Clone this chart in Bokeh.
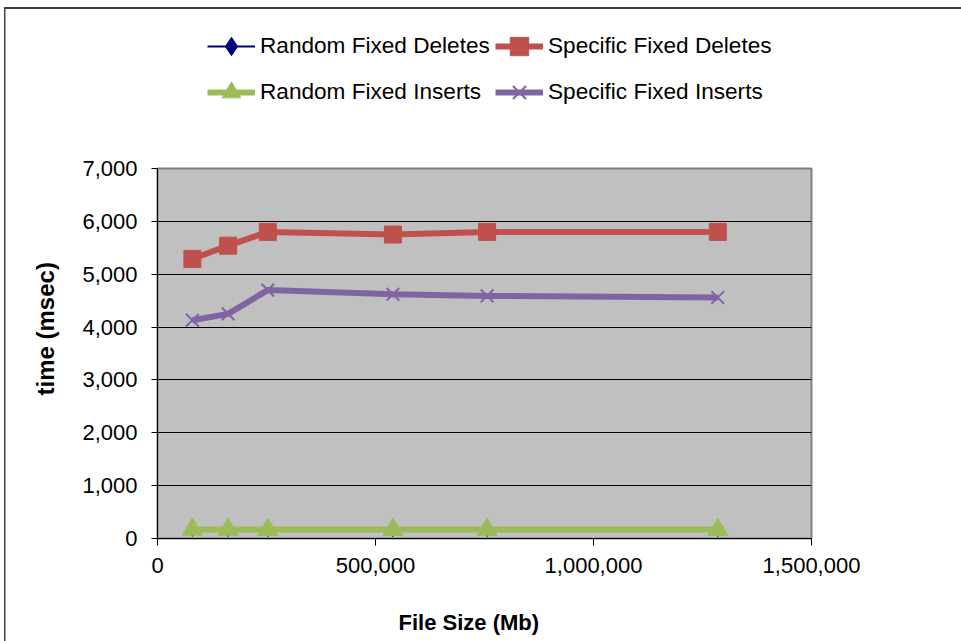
from bokeh.plotting import figure
from bokeh.layouts import column
from bokeh.models import (ColumnDataSource, Legend, LegendItem, Range1d, SingleIntervalTicker,
                          NumeralTickFormatter, Title)
from bokeh.embed import file_html
from bokeh.resources import INLINE

# ---- data ----
file_size = [80000, 162000, 253000, 540000, 756000, 1285000]
random_fixed_deletes = [165, 162, 160, 160, 162, 160]
specific_fixed_deletes = [5290, 5540, 5800, 5750, 5800, 5800]
random_fixed_inserts = [172, 170, 168, 168, 170, 168]
specific_fixed_inserts = [4130, 4250, 4700, 4620, 4590, 4560]

series_names = ["Random Fixed Deletes", "Specific Fixed Deletes",
                "Random Fixed Inserts", "Specific Fixed Inserts"]
x_label = "File Size (Mb)"
y_label = "time (msec)"

FONT = "Liberation Sans"
c_blue, c_red, c_green, c_purple = "#000080", "#C0504D", "#9BBB59", "#8064A2"

src = ColumnDataSource(dict(x=file_size, rfd=random_fixed_deletes, sfd=specific_fixed_deletes,
                            rfi=random_fixed_inserts, sfi=specific_fixed_inserts))


def draw_series(fig):
    l1 = fig.line("x", "rfd", source=src, line_color=c_blue, line_width=2)
    m1 = fig.scatter("x", "rfd", source=src, marker="diamond", size=13, fill_color=c_blue, line_color=c_blue)
    l2 = fig.line("x", "sfd", source=src, line_color=c_red, line_width=6)
    m2 = fig.scatter("x", "sfd", source=src, marker="square", size=17, fill_color=c_red, line_color=c_red)
    l3 = fig.line("x", "rfi", source=src, line_color=c_green, line_width=6)
    m3 = fig.scatter("x", "rfi", source=src, marker="triangle", size=20, fill_color=c_green, line_color=c_green)
    l4 = fig.line("x", "sfi", source=src, line_color=c_purple, line_width=6)
    m4 = fig.scatter("x", "sfi", source=src, marker="x", size=18, line_color=c_purple, line_width=2)
    return [[l1, m1], [l2, m2], [l3, m3], [l4, m4]]


TOP_H = 148

# ---- main chart ----
p = figure(width=961, height=641 - TOP_H, output_backend="svg", toolbar_location=None,
           x_range=Range1d(0, 1500000), y_range=Range1d(0, 7000))
p.min_border_left = 157
p.min_border_right = 150
p.min_border_top = 168 - TOP_H
p.min_border_bottom = 103
p.background_fill_color = "#C0C0C0"
p.border_fill_alpha = 0
p.outline_line_color = "#808080"
p.outline_line_width = 2

p.xgrid.grid_line_color = None
p.ygrid.grid_line_color = "black"
p.ygrid.grid_line_width = 1

for ax in (p.xaxis[0], p.yaxis[0]):
    ax.axis_line_color = "black"
    ax.axis_line_width = 1
    ax.major_tick_line_color = "black"
    ax.minor_tick_line_color = None
    ax.major_tick_in = 0
    ax.major_label_text_font = FONT
    ax.major_label_text_font_size = "22px"
    ax.major_label_text_color = "black"
    ax.formatter = NumeralTickFormatter(format="0,0")

p.xaxis[0].ticker = SingleIntervalTicker(interval=500000)
p.yaxis[0].ticker = SingleIntervalTicker(interval=1000)
p.xaxis[0].major_tick_out = 7
p.yaxis[0].major_tick_out = 6
p.xaxis[0].major_label_standoff = 12
p.yaxis[0].major_label_standoff = 14

draw_series(p)

# blank spacer between the x axis and its title, then the titles themselves
p.add_layout(Title(text=" ", text_font_size="1px", standoff=27), "below")
p.add_layout(Title(text=x_label, align="left", offset=241, standoff=4, text_color="black",
                   text_font=FONT, text_font_size="22px", text_font_style="bold"), "below")
p.add_layout(Title(text=y_label, align="left", offset=143, standoff=41, text_color="black",
                   text_font=FONT, text_font_size="24px", text_font_style="bold"), "left")

# ---- legend strip above the chart (same series styles; data lie outside its view) ----
lf = figure(width=961, height=TOP_H, output_backend="svg", toolbar_location=None,
            x_range=Range1d(0, 1), y_range=Range1d(0, 1), x_axis_type=None, y_axis_type=None,
            min_border=0)
lf.outline_line_color = None
lf.background_fill_alpha = 0
lf.border_fill_alpha = 0
lf.xgrid.visible = False
lf.ygrid.visible = False
pairs = draw_series(lf)

legend = Legend(items=[LegendItem(label=n, renderers=r) for n, r in zip(series_names, pairs)],
                orientation="horizontal", ncols=2, location=(207 - 157, TOP_H - 115),
                label_text_font=FONT, label_text_font_size="22.6px", label_text_color="black",
                glyph_width=48, glyph_height=46, label_height=46, label_width=235,
                label_standoff=5, spacing=0, padding=0, margin=0,
                border_line_color=None, background_fill_alpha=0)
lf.add_layout(legend, "center")

layout = column(lf, p, spacing=0)
layout.styles = {
    "background": "linear-gradient(#404040, #404040) 4px 7px / 100% 2px no-repeat, "
                  "linear-gradient(#404040, #404040) 4px 7px / 1.5px 100% no-repeat, white",
}

open("out.html", "w").write(file_html(layout, INLINE))
